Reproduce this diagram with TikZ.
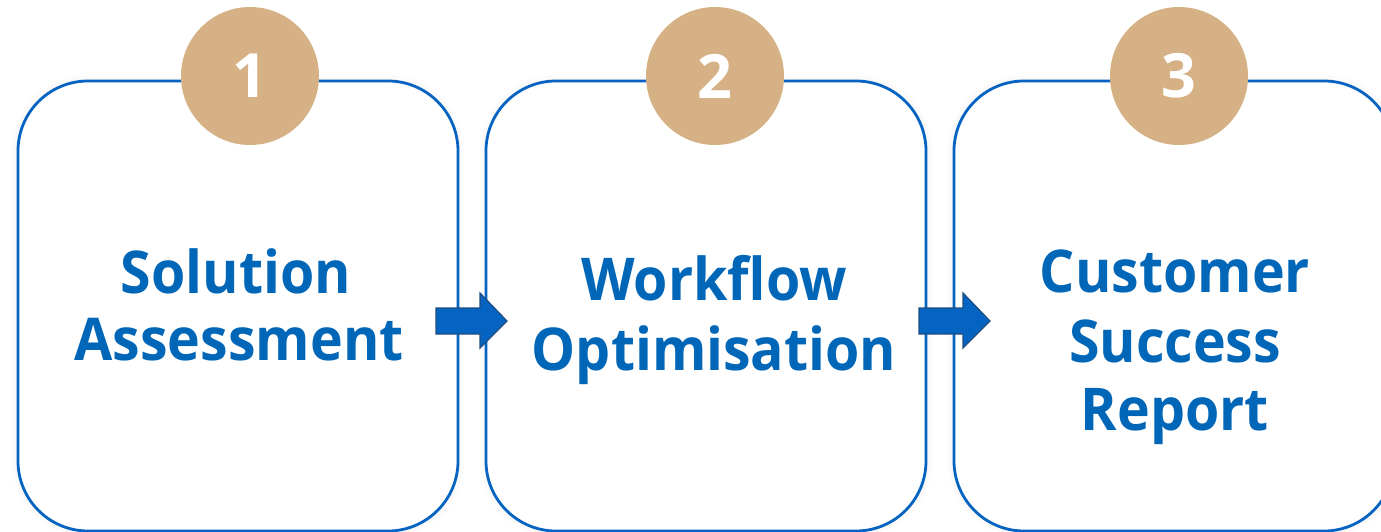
\documentclass[tikz,border=0pt]{standalone}
\usepackage{fontspec}
\setmainfont{Open Sans}
\newfontfamily\labelfont[FakeStretch=0.94]{Open Sans}
\usetikzlibrary{shadows.blur}
\definecolor{boxblue}{HTML}{0563C1}
\definecolor{txtblue}{HTML}{0066B8}
\definecolor{arrline}{HTML}{1F4E82}
\definecolor{tan}{HTML}{D6B185}
\tikzset{
  stepbox/.style={draw=boxblue, line width=2.8pt, fill=white, rounded corners=70pt,
    blur shadow={shadow xshift=0pt, shadow yshift=0pt, shadow blur radius=8pt, shadow opacity=8}},
  badge/.style={circle, fill=tan, minimum size=138pt, inner sep=0pt, text=white,
    font=\fontsize{61}{61}\selectfont\bfseries},
  label/.style={anchor=base, inner sep=0pt, text=txtblue, font=\labelfont\fontsize{59}{59}\selectfont\bfseries},
  blockarrow/.style={fill=boxblue, draw=arrline, line width=1.2pt, line join=miter}
}
\begin{document}
\begin{tikzpicture}[x=1pt, y=-1pt]
\useasboundingbox (0,0) rectangle (1381,532);
% boxes
\node[stepbox, minimum width=440pt, minimum height=450pt, inner sep=0pt] (b1) at (238,306) {};
\node[stepbox, minimum width=440pt, minimum height=450pt, inner sep=0pt] (b2) at (706,306) {};
\node[stepbox, minimum width=440pt, minimum height=450pt, inner sep=0pt] (b3) at (1174,306) {};
% badges
\node[badge] (c1) at (250,76) {1};
\node[badge] (c2) at (715,76) {2};
\node[badge] (c3) at (1179,76) {3};
% labels
\node[label] (t1a) at (236,293) {Solution};
\node[label] (t1b) at (239,360) {Assessment};
\node[label] (t2a) at (714,300) {Workflow};
\node[label] (t2b) at (714,370) {Optimisation};
\node[label] (t3a) at (1175,292) {Customer};
\node[label] (t3b) at (1175,362) {Success};
\node[label] (t3c) at (1175,430) {Report};
% block arrows
\coordinate (a1) at (436,308);
\coordinate (a2) at (919,308);
\draw[blockarrow] (a1) -- ++(44,0) -- ++(0,-15) -- ++(27,28) -- ++(-27,27) -- ++(0,-14) -- ++(-44,0) -- cycle;
\draw[blockarrow] (a2) -- ++(44,0) -- ++(0,-15) -- ++(27,28) -- ++(-27,27) -- ++(0,-14) -- ++(-44,0) -- cycle;
\end{tikzpicture}
\end{document}
